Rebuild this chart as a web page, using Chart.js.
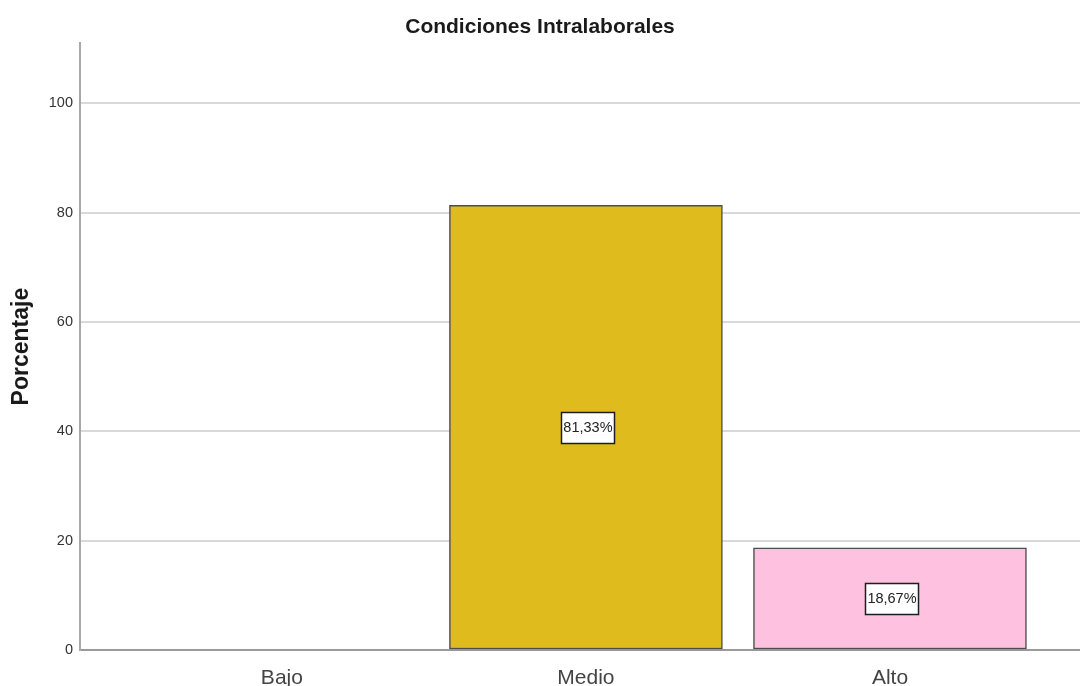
<!DOCTYPE html>
<html lang="es">
<head>
<meta charset="utf-8">
<title>Condiciones Intralaborales</title>
<script src="https://cdn.jsdelivr.net/npm/chart.js@4.4.1/dist/chart.umd.min.js"></script>
<style>
  html, body { margin: 0; padding: 0; background: #fff; overflow: hidden; }
  #wrap { width: 1080px; height: 686px; }
</style>
</head>
<body>
<div id="wrap"><canvas id="chart" width="1080" height="686"></canvas></div>
<script>
    "use strict";

    // data
    const categories = ['Bajo', 'Medio', 'Alto'];
    const percentages = [0, 81.33, 18.67];
    const yTicks = [0, 20, 40, 60, 80, 100];

    const barColors = ['#d7d7d7', '#e0bb1e', '#fec1e0'];
    const SANS = '"Liberation Sans", Arial, sans-serif';

    // white boxes with the percentage in the middle of each bar
    const valueBoxes = {
        id: 'valueBoxes',
        afterDatasetsDraw(chart) {
            const ctx = chart.ctx;
            const meta = chart.getDatasetMeta(0);
            ctx.save();
            ctx.font = '14.5px ' + SANS;
            ctx.textAlign = 'center';
            ctx.textBaseline = 'middle';
            meta.data.forEach((bar, i) => {
                const v = percentages[i];
                if (!v) return;
                const text = v.toFixed(2).replace('.', ',') + '%';
                const cx = bar.x + 2, cy = (bar.y + bar.base) / 2;
                const w = Math.round(ctx.measureText(text).width) + 4, h = 31;
                const x0 = Math.round(cx - w / 2) + 0.5, y0 = Math.round(cy - h / 2) + 0.5;
                ctx.fillStyle = '#fff';
                ctx.fillRect(x0, y0, w, h);
                ctx.strokeStyle = '#1e1e1e';
                ctx.lineWidth = 1.5;
                ctx.strokeRect(x0, y0, w, h);
                ctx.fillStyle = '#222';
                ctx.fillText(text, cx, cy + 1);
            });
            ctx.restore();
        }
    };

    new Chart(document.getElementById('chart'), {
        type: 'bar',
        data: {
            datasets: [{
                data: categories.map((c, i) => ({ x: i, y: percentages[i] })),
                backgroundColor: barColors,
                borderColor: '#4d4d4d',
                borderWidth: 1.5,
                borderSkipped: false,
                barThickness: 273
            }]
        },
        options: {
            responsive: false,
            animation: false,
            events: [],
            plugins: {
                legend: { display: false },
                tooltip: { enabled: false },
                title: {
                    display: true,
                    text: 'Condiciones Intralaborales',
                    color: '#1a1a1a',
                    font: { family: SANS, size: 21, weight: 'bold', lineHeight: 1.2 },
                    padding: { top: 15, bottom: 3 }
                }
            },
            scales: {
                x: {
                    type: 'linear',
                    offset: false,
                    min: -0.664,
                    max: 2.625,
                    grid: { display: false, offset: false },
                    border: { color: '#9a9a9a', width: 2 },
                    afterBuildTicks: s => { s.ticks = categories.map((c, i) => ({ value: i })); },
                    ticks: {
                        callback: v => categories[v],
                        color: '#444',
                        font: { family: SANS, size: 21 },
                        padding: 8,
                        autoSkip: false,
                        maxRotation: 0
                    },
                    afterFit: s => { s.height = 36; }
                },
                y: {
                    min: 0,
                    max: 111,
                    grid: { color: '#d9d9d9', lineWidth: 2, drawTicks: false },
                    border: { color: '#a8a8a8', width: 2 },
                    afterBuildTicks: s => { s.ticks = yTicks.map(v => ({ value: v })); },
                    ticks: {
                        color: '#333',
                        font: { family: SANS, size: 14.5 },
                        padding: 7
                    },
                    title: {
                        display: true,
                        text: 'Porcentaje',
                        color: '#1a1a1a',
                        font: { family: SANS, size: 23, weight: 'bold' },
                        padding: { top: 8, bottom: 0 }
                    },
                    afterFit: s => { s.width = 80; }
                }
            }
        },
        plugins: [valueBoxes]
    });
</script>
</body>
</html>
